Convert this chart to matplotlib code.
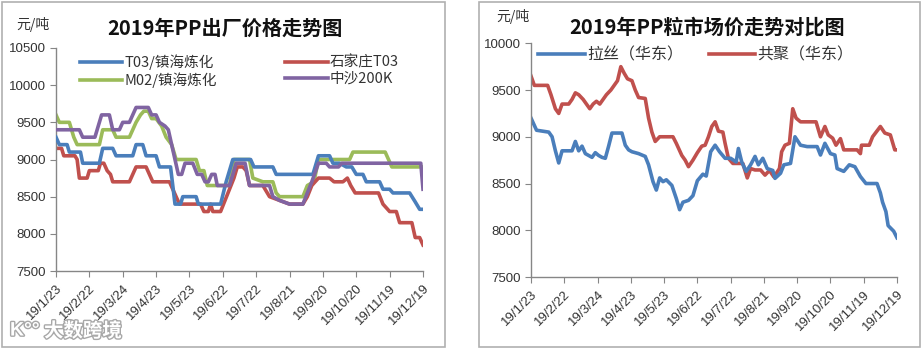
import numpy as np
import pandas as pd
import matplotlib
matplotlib.use("Agg")
import matplotlib.pyplot as plt
import matplotlib.patheffects as pe
from matplotlib.patches import Rectangle

plt.rcParams['font.family'] = ['Liberation Sans', 'Noto Sans CJK SC', 'DejaVu Sans']

# Fechas: días transcurridos desde el 2019-01-23
inicio = pd.Timestamp("2019-01-23")
dias_ticks = list(range(0, 331, 30))

# ---- Precios de fábrica (元/吨) ----
t03_dias = [0, 3, 10, 12, 22, 24, 39, 42, 51, 54, 69, 72, 78, 81, 90, 93, 103, 107, 112, 114,
            126, 128, 148, 153, 159, 175, 178, 195, 198, 231, 236, 246, 249, 255, 261, 266,
            270, 276, 279, 291, 294, 300, 303, 318, 323, 327, 330]
t03_vals = [9300, 9200, 9200, 9100, 9100, 8950, 8950, 9150, 9150, 9050, 9050, 9200, 9200, 9050,
            9050, 8900, 8900, 8400, 8400, 8500, 8500, 8400, 8400, 8700, 9000, 9000, 8900, 8900,
            8800, 8800, 9050, 9050, 8950, 8950, 8900, 8900, 8800, 8800, 8700, 8700, 8600, 8600,
            8550, 8550, 8430, 8330, 8330]

sjz_dias = [0, 5, 7, 17, 19, 21, 28, 30, 38, 40, 43, 46, 49, 51, 66, 69, 72, 81, 84, 87, 102,
            105, 108, 111, 130, 133, 137, 139, 141, 148, 152, 156, 160, 163, 168, 171, 174, 186,
            192, 201, 210, 222, 226, 230, 236, 246, 250, 258, 262, 265, 269, 290, 294, 300, 306,
            309, 320, 323, 327, 330]
sjz_vals = [9150, 9150, 9050, 9050, 9000, 8750, 8750, 8850, 8850, 8950, 8950, 8850, 8800, 8700,
            8700, 8800, 8900, 8900, 8800, 8700, 8700, 8600, 8500, 8400, 8400, 8300, 8300, 8400,
            8300, 8300, 8450, 8600, 8750, 8900, 8900, 8850, 8650, 8650, 8500, 8450, 8400, 8400,
            8500, 8650, 8750, 8750, 8700, 8700, 8750, 8650, 8550, 8550, 8400, 8300, 8300, 8150,
            8150, 7950, 7950, 7850]

m02_dias = [0, 3, 12, 16, 19, 39, 42, 51, 54, 66, 69, 72, 76, 79, 83, 86, 90, 95, 99, 104, 108,
            126, 129, 133, 136, 156, 160, 174, 177, 186, 195, 198, 201, 222, 226, 232, 236, 264,
            267, 296, 302, 330]
m02_vals = [9600, 9500, 9500, 9300, 9200, 9200, 9400, 9400, 9300, 9300, 9400, 9500, 9600, 9650,
            9650, 9550, 9550, 9450, 9300, 9200, 9000, 9000, 8850, 8850, 8650, 8650, 9000, 9000,
            8750, 8700, 8700, 8550, 8500, 8500, 8650, 8700, 9000, 9000, 9100, 9100, 8900, 8900]

zs_dias = [0, 21, 24, 35, 38, 41, 48, 51, 57, 60, 66, 69, 72, 83, 86, 90, 93, 98, 101, 104, 110,
           113, 116, 123, 127, 131, 134, 137, 140, 143, 145, 156, 162, 170, 174, 192, 195, 201,
           210, 222, 226, 230, 236, 243, 246, 254, 257, 328, 330]
zs_vals = [9400, 9400, 9300, 9300, 9450, 9600, 9600, 9400, 9400, 9500, 9500, 9600, 9700, 9700,
           9600, 9600, 9500, 9450, 9400, 9200, 8800, 8800, 8950, 8950, 8800, 8800, 8700, 8700,
           8800, 8800, 8650, 8650, 8950, 8950, 8650, 8650, 8500, 8450, 8400, 8400, 8550, 8700,
           8950, 8950, 8900, 8900, 8950, 8950, 8600]

# ---- Precios de mercado (华东) ----
lasi_dias = [0, 5, 16, 19, 22, 25, 28, 37, 40, 43, 46, 49, 52, 55, 58, 61, 64, 67, 70, 73, 82,
             85, 88, 91, 97, 103, 106, 110, 113, 116, 119, 122, 127, 131, 134, 137, 142, 146,
             150, 155, 158, 162, 166, 170, 175, 180, 185, 187, 190, 194, 198, 202, 205, 209, 213,
             218, 220, 225, 228, 234, 238, 243, 249, 258, 261, 265, 270, 274, 276, 282, 287, 292,
             297, 302, 312, 315, 317, 320, 322, 327, 330]
lasi_vals = [9200, 9070, 9050, 9000, 8850, 8720, 8850, 8850, 8950, 8850, 8900, 8820, 8800, 8780,
             8830, 8800, 8780, 8770, 8900, 9040, 9040, 8910, 8860, 8840, 8820, 8790, 8700, 8520,
             8430, 8560, 8520, 8540, 8480, 8340, 8220, 8300, 8320, 8370, 8530, 8600, 8580, 8840,
             8910, 8840, 8770, 8770, 8730, 8875, 8730, 8630, 8700, 8790, 8700, 8770, 8660, 8640,
             8555, 8610, 8700, 8715, 9000, 8910, 8895, 8895, 8805, 8930, 8820, 8805, 8660, 8630,
             8700, 8680, 8575, 8500, 8500, 8400, 8300, 8200, 8050, 7990, 7920]

gongju_dias = [0, 3, 15, 18, 22, 25, 28, 34, 37, 40, 43, 47, 50, 53, 56, 59, 62, 65, 68, 72, 75,
               78, 81, 84, 87, 91, 94, 97, 103, 106, 109, 112, 116, 128, 131, 136, 139, 142, 146,
               150, 154, 157, 160, 163, 166, 169, 173, 175, 178, 182, 191, 195, 198, 202, 207,
               211, 215, 219, 224, 226, 229, 233, 236, 239, 243, 257, 261, 265, 268, 272, 275,
               279, 282, 294, 297, 298, 305, 308, 315, 319, 324, 328, 330]
gongju_vals = [9650, 9550, 9550, 9450, 9300, 9250, 9350, 9350, 9400, 9470, 9450, 9400, 9350,
               9300, 9350, 9380, 9350, 9400, 9450, 9500, 9550, 9600, 9750, 9680, 9620, 9600,
               9500, 9420, 9410, 9200, 9050, 8950, 9000, 9000, 8930, 8800, 8750, 8680, 8750,
               8830, 8900, 8910, 9000, 9110, 9160, 9060, 9050, 8930, 8770, 8715, 8715, 8560,
               8660, 8645, 8645, 8590, 8640, 8570, 8660, 8840, 8910, 8930, 9300, 9200, 9160,
               9160, 9000, 9110, 9020, 8985, 8910, 8980, 8860, 8860, 8820, 8910, 8910, 9000,
               9110, 9040, 9020, 8860, 8860]

AZUL = "#4A7EBB"
ROJO = "#C0504D"
VERDE = "#9BBB59"
MORADO = "#8064A2"
GRIS = "#868686"
TEXTO = "#333333"
CJK = ['Noto Sans CJK SC', 'DejaVu Sans']


def a_fechas(dias):
    return inicio + pd.to_timedelta(dias, unit="D")


def preparar_eje(ax, ymin, ymax):
    ax.set_xlim(a_fechas([0])[0], a_fechas([330])[0])
    ax.set_ylim(ymin, ymax)
    ax.set_yticks(np.arange(ymin, ymax + 1, 500))
    fechas_ticks = a_fechas(dias_ticks)
    ax.set_xticks(fechas_ticks)
    ax.set_xticklabels([f"{d.year % 100}/{d.month}/{d.day}" for d in fechas_ticks],
                       rotation=45, ha="right", rotation_mode="anchor")
    for lado in ["top", "right"]:
        ax.spines[lado].set_visible(False)
    for lado in ["left", "bottom"]:
        ax.spines[lado].set_color(GRIS)
        ax.spines[lado].set_linewidth(1)
    ax.tick_params(axis="both", direction="out", length=4, color=GRIS,
                   labelsize=9.5, labelcolor=TEXTO)
    ax.tick_params(axis="x", pad=4)


fig = plt.figure(figsize=(9.23, 3.49), dpi=100)
fig.patch.set_facecolor("white")

# Marcos de cada panel
for x0, x1 in [(2, 445), (479, 920)]:
    fig.patches.append(Rectangle((x0 / 923, 2 / 349), (x1 - x0) / 923, 345 / 349,
                                 transform=fig.transFigure, fill=False,
                                 edgecolor="#B0B0B0", lw=1.2))

# Panel izquierdo: precios de fábrica
ax1 = fig.add_axes([56 / 923, 1 - 271 / 349, 367 / 923, 223 / 349])
lw = 2.6
l_t03, = ax1.plot(a_fechas(t03_dias), t03_vals, color=AZUL, lw=lw, zorder=3,
                  label="T03/镇海炼化")
l_sjz, = ax1.plot(a_fechas(sjz_dias), sjz_vals, color=ROJO, lw=lw, zorder=2,
                  label="石家庄T03")
l_m02, = ax1.plot(a_fechas(m02_dias), m02_vals, color=VERDE, lw=lw, zorder=1,
                  label="M02/镇海炼化")
l_zs, = ax1.plot(a_fechas(zs_dias), zs_vals, color=MORADO, lw=lw, zorder=4,
                 label="中沙200K")
preparar_eje(ax1, 7500, 10500)
# La leyenda llena por columnas: se reordena para que quede T03 | 石家庄 arriba
leg1 = ax1.legend(handles=[l_t03, l_m02, l_sjz, l_zs],
                  loc="upper left", bbox_to_anchor=(0.065, 0.972), ncol=2, frameon=False,
                  handlelength=2.9, handletextpad=0.15, columnspacing=4.7,
                  labelspacing=0.15, borderpad=0, borderaxespad=0,
                  prop={"family": CJK, "size": 10.5})
for t in leg1.get_texts():
    t.set_color(TEXTO)

fig.text(33 / 923, 1 - 25 / 349, "元/吨", ha="center", va="center",
         fontsize=10, color=TEXTO, family=CJK)
fig.text(225 / 923, 1 - 28 / 349, "2019年PP出厂价格走势图", ha="center", va="center",
         fontsize=14.5, fontweight="bold", color="#111111", family=CJK)

# Panel derecho: precios de mercado
ax2 = fig.add_axes([531 / 923, 1 - 277 / 349, 366 / 923, 233.7 / 349])
ax2.plot(a_fechas(lasi_dias), lasi_vals, color=AZUL, lw=lw, label="拉丝（华东）", zorder=2)
ax2.plot(a_fechas(gongju_dias), gongju_vals, color=ROJO, lw=lw, label="共聚（华东）", zorder=1)
preparar_eje(ax2, 7500, 10000)
leg2 = ax2.legend(loc="upper left", bbox_to_anchor=(0.02, 0.985), ncol=2, frameon=False,
                  handlelength=2.9, handletextpad=0.15, columnspacing=1.6,
                  borderpad=0, borderaxespad=0,
                  prop={"family": CJK, "size": 11.5})
for t in leg2.get_texts():
    t.set_color(TEXTO)

fig.text(513 / 923, 1 - 17 / 349, "元/吨", ha="center", va="center",
         fontsize=10, color=TEXTO, family=CJK)
fig.text(707 / 923, 1 - 27 / 349, "2019年PP粒市场价走势对比图", ha="center", va="center",
         fontsize=14.5, fontweight="bold", color="#111111", family=CJK)

# Marca de agua
fig.text(44 / 923, 1 - 331 / 349, "大数跨境", ha="left", va="center", fontsize=14,
         color="white", family=CJK, fontweight="bold",
         path_effects=[pe.withStroke(linewidth=2, foreground="#A8A8A8")])
fig.text(10 / 923, 1 - 331 / 349, "K°°", ha="left", va="center", fontsize=14,
         color="white", fontweight="bold",
         path_effects=[pe.withStroke(linewidth=2, foreground="#A8A8A8")])

fig.savefig("out.png", dpi=100, facecolor="white")
